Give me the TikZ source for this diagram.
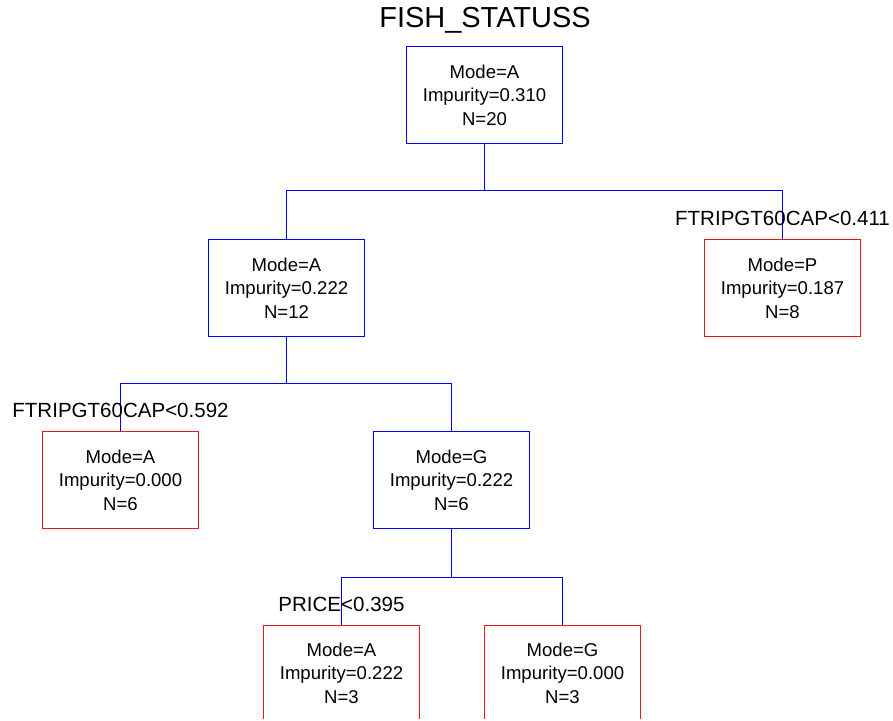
\documentclass[tikz,border=0pt]{standalone}
\usepackage{fontspec}
\setmainfont{Liberation Sans}
\usetikzlibrary{positioning}
\definecolor{splitblue}{RGB}{0,0,255}
\definecolor{leafred}{RGB}{240,20,20}
\tikzset{
  treebox/.style={draw=#1,line width=0.7pt,minimum width=3.875cm,minimum height=2.4cm,align=center,inner sep=0pt,font=\fontsize{13.2}{16.7}\selectfont},
  splitlbl/.style={inner sep=0pt,font=\fontsize{14.6}{17}\selectfont},
}
\begin{document}
\begin{tikzpicture}[
    x=0.025cm,y=-0.025cm,
    link/.style={draw=splitblue,line width=0.7pt},
  ]
  \useasboundingbox (0,0) rectangle (893,721);
  \clip (0,0) rectangle (893,718);
  \node[font=\fontsize{20.6}{24}\selectfont] (title) at (485,20) {FISH\_STATUSS};

  % Root
  \node[treebox=splitblue] (root) at (484.5,95) {Mode=A\\Impurity=0.310\\N=20};
  \node[treebox=splitblue] (n2) at (286.5,288) {Mode=A\\Impurity=0.222\\N=12};
  \node[treebox=leafred] (n3) at (782.5,288) {Mode=P\\Impurity=0.187\\N=8};
  \draw[link] (root.south) -- ++(0,47) -| (n2.north);
  \draw[link] (root.south) -- ++(0,47) -| (n3.north);
  \node[splitlbl] (s1) at (782.5,218) {FTRIPGT60CAP<0.411};

  % Second level
  \node[treebox=leafred] (n4) at (120.5,480) {Mode=A\\Impurity=0.000\\N=6};
  \node[treebox=splitblue] (n5) at (451.5,480) {Mode=G\\Impurity=0.222\\N=6};
  \draw[link] (n2.south) -- ++(0,47) -| (n4.north);
  \draw[link] (n2.south) -- ++(0,47) -| (n5.north);
  \node[splitlbl] (s2) at (120.5,410) {FTRIPGT60CAP<0.592};

  % Third level
  \node[treebox=leafred] (n6) at (341.5,673) {Mode=A\\Impurity=0.222\\N=3};
  \node[treebox=leafred] (n7) at (562.5,673) {Mode=G\\Impurity=0.000\\N=3};
  \draw[link] (n5.south) -- ++(0,49) -| (n6.north);
  \draw[link] (n5.south) -- ++(0,49) -| (n7.north);
  \node[splitlbl] (s3) at (341.5,604) {PRICE<0.395};
\end{tikzpicture}
\end{document}
